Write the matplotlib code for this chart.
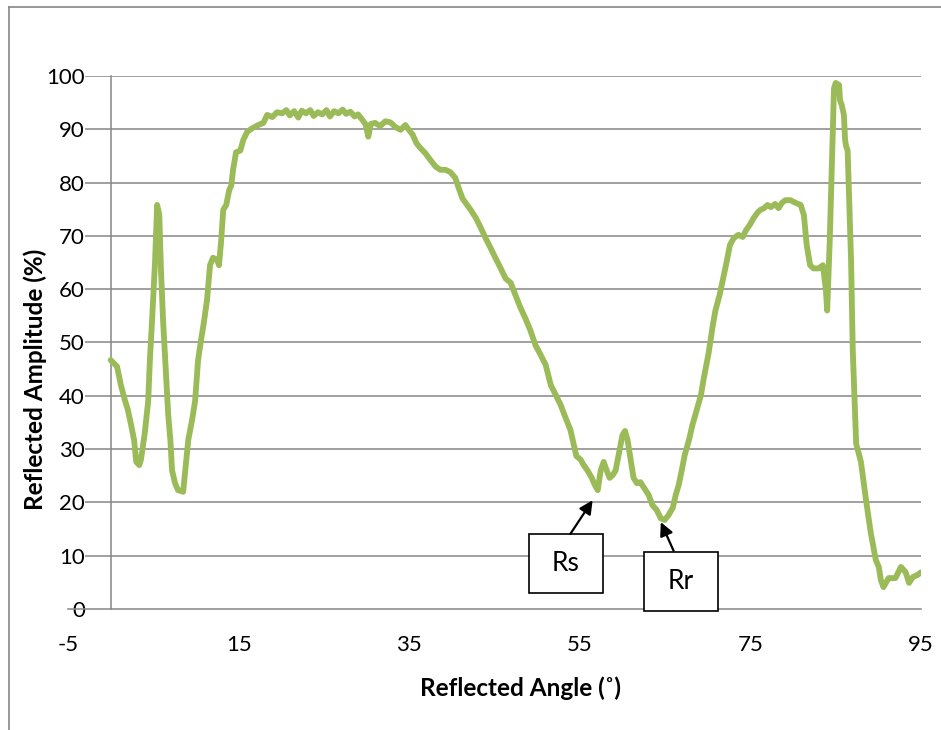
import matplotlib.pyplot as plt
from matplotlib.lines import Line2D
from matplotlib.patches import Rectangle

plt.rcParams['font.family'] = ['Lato', 'DejaVu Sans']
plt.rcParams['axes.unicode_minus'] = False

# reflected angle (deg) and reflected amplitude (%)
angle = [0.0, 0.75, 1.2, 1.7, 2.0, 2.4, 2.75, 3.0, 3.35, 3.55, 4.0, 4.4, 4.6, 4.85,
         5.2, 5.45, 5.7, 5.9, 6.15, 6.4, 6.75, 7.0, 7.2, 7.55, 7.9, 8.5, 8.75, 9.1,
         9.55, 9.9, 10.25, 10.6, 10.95, 11.3, 11.65, 12.0, 12.5, 12.7, 12.95, 13.2,
         13.55, 13.9, 14.15, 14.35, 14.7, 15.2, 15.55, 16.0, 16.6, 17.3, 17.9, 18.35,
         18.95, 19.5, 20.1, 20.6, 21.0, 21.5, 22.0, 22.4, 22.9, 23.4, 23.8, 24.3,
         24.8, 25.3, 25.7, 26.2, 26.7, 27.2, 27.6, 28.1, 28.6, 29.0, 29.5, 29.9,
         30.2, 30.5, 31.0, 31.6, 32.2, 32.8, 33.4, 34.0, 34.55, 35.0, 35.4, 35.85,
         36.3, 36.9, 37.5, 38.1, 38.65, 39.25, 39.8, 40.4, 40.8, 41.25, 41.7, 42.2,
         42.8, 43.4, 43.95, 44.55, 45.1, 45.7, 46.3, 46.9, 47.45, 48.05, 48.6, 49.2,
         49.8, 50.4, 51.0, 51.6, 52.2, 52.75, 53.35, 53.9, 54.3, 54.6, 55.1, 55.45,
         55.9, 56.4, 56.75, 57.1, 57.45, 57.8, 58.15, 58.5, 58.85, 59.2, 59.55, 60.0,
         60.3, 60.6, 60.97, 61.3, 61.7, 62.1, 62.7, 63.07, 63.5, 64.0, 64.5, 64.95,
         65.4, 65.9, 66.25, 66.6, 66.95, 67.3, 67.8, 68.2, 68.7, 69.2, 69.5, 69.9,
         70.1, 70.6, 70.9, 71.4, 71.9, 72.2, 72.6, 73.05, 73.6, 74.1, 74.5, 74.9,
         75.4, 75.9, 76.2, 76.6, 77.0, 77.4, 77.9, 78.3, 78.7, 79.1, 79.7, 80.3,
         80.9, 81.27, 81.6, 82.0, 82.4, 83.0, 83.5, 83.85, 84.0, 84.3, 84.6, 84.8,
         85.0, 85.4, 85.5, 85.7, 85.96, 86.1, 86.2, 86.4, 86.8, 87.0, 87.4, 87.96,
         88.55, 89.1, 89.7, 90.05, 90.3, 90.6, 91.2, 92.0, 92.65, 93.2, 93.6, 94.05,
         94.6, 95.0]
amplitude = [46.7, 45.5, 42.0, 39.0, 37.5, 34.5, 31.7, 27.6, 27.0, 28.0, 33.0, 39.0,
             46.7, 54.0, 65.0, 75.8, 74.0, 63.6, 54.0, 46.7, 36.4, 31.7, 26.0, 23.6,
             22.3, 22.0, 26.0, 31.7, 35.5, 39.0, 46.7, 50.5, 54.0, 58.0, 64.5, 65.9,
             65.5, 64.5, 69.0, 74.9, 75.8, 78.6, 79.5, 82.4, 85.7, 86.0, 88.0, 89.5,
             90.2, 90.8, 91.2, 92.7, 92.3, 93.2, 93.0, 93.6, 92.6, 93.4, 92.2, 93.5,
             93.0, 93.6, 92.5, 93.2, 92.8, 93.6, 92.4, 93.4, 93.0, 93.7, 92.9, 93.3,
             92.4, 92.8, 91.8, 90.9, 88.6, 91.0, 91.2, 90.6, 91.5, 91.3, 90.4, 89.9,
             90.8, 89.8, 89.0, 87.4, 86.5, 85.5, 84.2, 83.0, 82.4, 82.4, 82.0, 80.9,
             79.0, 77.0, 76.0, 74.9, 73.4, 71.5, 69.6, 67.7, 65.9, 64.0, 62.0, 61.2,
             58.9, 56.5, 54.6, 52.3, 49.5, 47.7, 45.8, 42.0, 40.1, 38.3, 35.8, 33.6,
             30.8, 28.7, 28.0, 27.0, 26.0, 24.6, 23.3, 22.3, 26.0, 27.6, 26.0, 24.6,
             25.1, 26.0, 28.9, 32.6, 33.4, 31.7, 28.0, 24.6, 23.6, 23.8, 22.3, 21.4,
             19.5, 18.6, 17.0, 16.7, 17.6, 19.0, 21.4, 23.3, 26.0, 28.9, 31.7, 34.5,
             37.3, 40.1, 43.0, 46.3, 48.0, 53.3, 56.0, 59.0, 62.7, 65.0, 68.3, 69.6,
             70.2, 69.8, 71.1, 72.0, 73.4, 74.5, 74.9, 75.2, 75.8, 75.4, 76.0, 75.2,
             76.2, 76.7, 76.7, 76.2, 75.8, 73.9, 68.3, 64.5, 63.9, 63.9, 64.5, 59.8,
             56.0, 69.0, 86.0, 97.7, 98.7, 98.3, 95.5, 94.6, 92.7, 88.0, 87.0, 86.0,
             65.5, 48.6, 31.0, 27.6, 20.5, 14.4, 9.2, 7.9, 5.4, 4.1, 5.8, 5.8, 7.9,
             6.9, 4.9, 6.0, 6.4, 6.9]

x_ticks = [-5, 15, 35, 55, 75, 95]
y_ticks = list(range(0, 101, 10))

grey = '#868686'
green = '#9BBB59'

fig = plt.figure(figsize=(9.41, 7.3), dpi=100)
ax = fig.add_axes([68 / 941, 1 - 609 / 730, 853 / 941, 533 / 730])

# chart area border (left and top edges visible)
fig.add_artist(Line2D([9 / 941, 9 / 941], [0, 1 - 7 / 730], color=grey, lw=1.2))
fig.add_artist(Line2D([9 / 941, 1], [1 - 7 / 730, 1 - 7 / 730], color=grey, lw=1.2))

ax.hlines(y_ticks[1:], -3, 95, color=grey, lw=1.1, zorder=1)
ax.plot(angle, amplitude, color=green, lw=4.2, solid_joinstyle='round',
        solid_capstyle='round', zorder=3)

ax.set_xlim(-5, 95)
ax.set_ylim(0, 100)
ax.set_xticks(x_ticks)
ax.set_yticks(y_ticks)
for s in ['top', 'right']:
    ax.spines[s].set_visible(False)
ax.spines['left'].set_position(('data', 0))
ax.spines['left'].set_color(grey)
ax.spines['left'].set_linewidth(1.1)
ax.spines['bottom'].set_color(grey)
ax.spines['bottom'].set_linewidth(1.1)
ax.tick_params(axis='both', length=0, labelsize=16)
ax.tick_params(axis='y', pad=18.5)
ax.tick_params(axis='x', pad=19)

ax.set_xlabel('Reflected Angle (˚)', fontsize=17.5, fontweight='bold')
ax.xaxis.set_label_coords(0.531, -0.148)
ax.xaxis.label.set_va('center')
ax.set_ylabel('Reflected Amplitude (%)', fontsize=17.5, fontweight='bold')
ax.yaxis.set_label_coords(-0.0387, 0.43)
ax.yaxis.label.set_va('center')

# callout boxes
boxes = [('Rs', (49.0, 3.0), (56.5, 20.4), (53.9, 14.1)),
         ('Rr', (62.5, -0.4), (64.5, 16.3), (66.0, 10.9))]
for label, (bx, by), head, tail in boxes:
    ax.add_patch(Rectangle((bx, by), 8.7, 11.1, facecolor='white', edgecolor='black',
                           lw=1.2, clip_on=False, zorder=4))
    ax.text(bx + 4.35, by + 5.55, label, ha='center', va='center', fontsize=19,
            zorder=5)
    ax.annotate('', xy=head, xytext=tail, zorder=5,
                arrowprops=dict(arrowstyle='-|>', color='black', lw=1.6,
                                mutation_scale=20, shrinkA=0, shrinkB=0))

fig.savefig('out.png', dpi=100)
